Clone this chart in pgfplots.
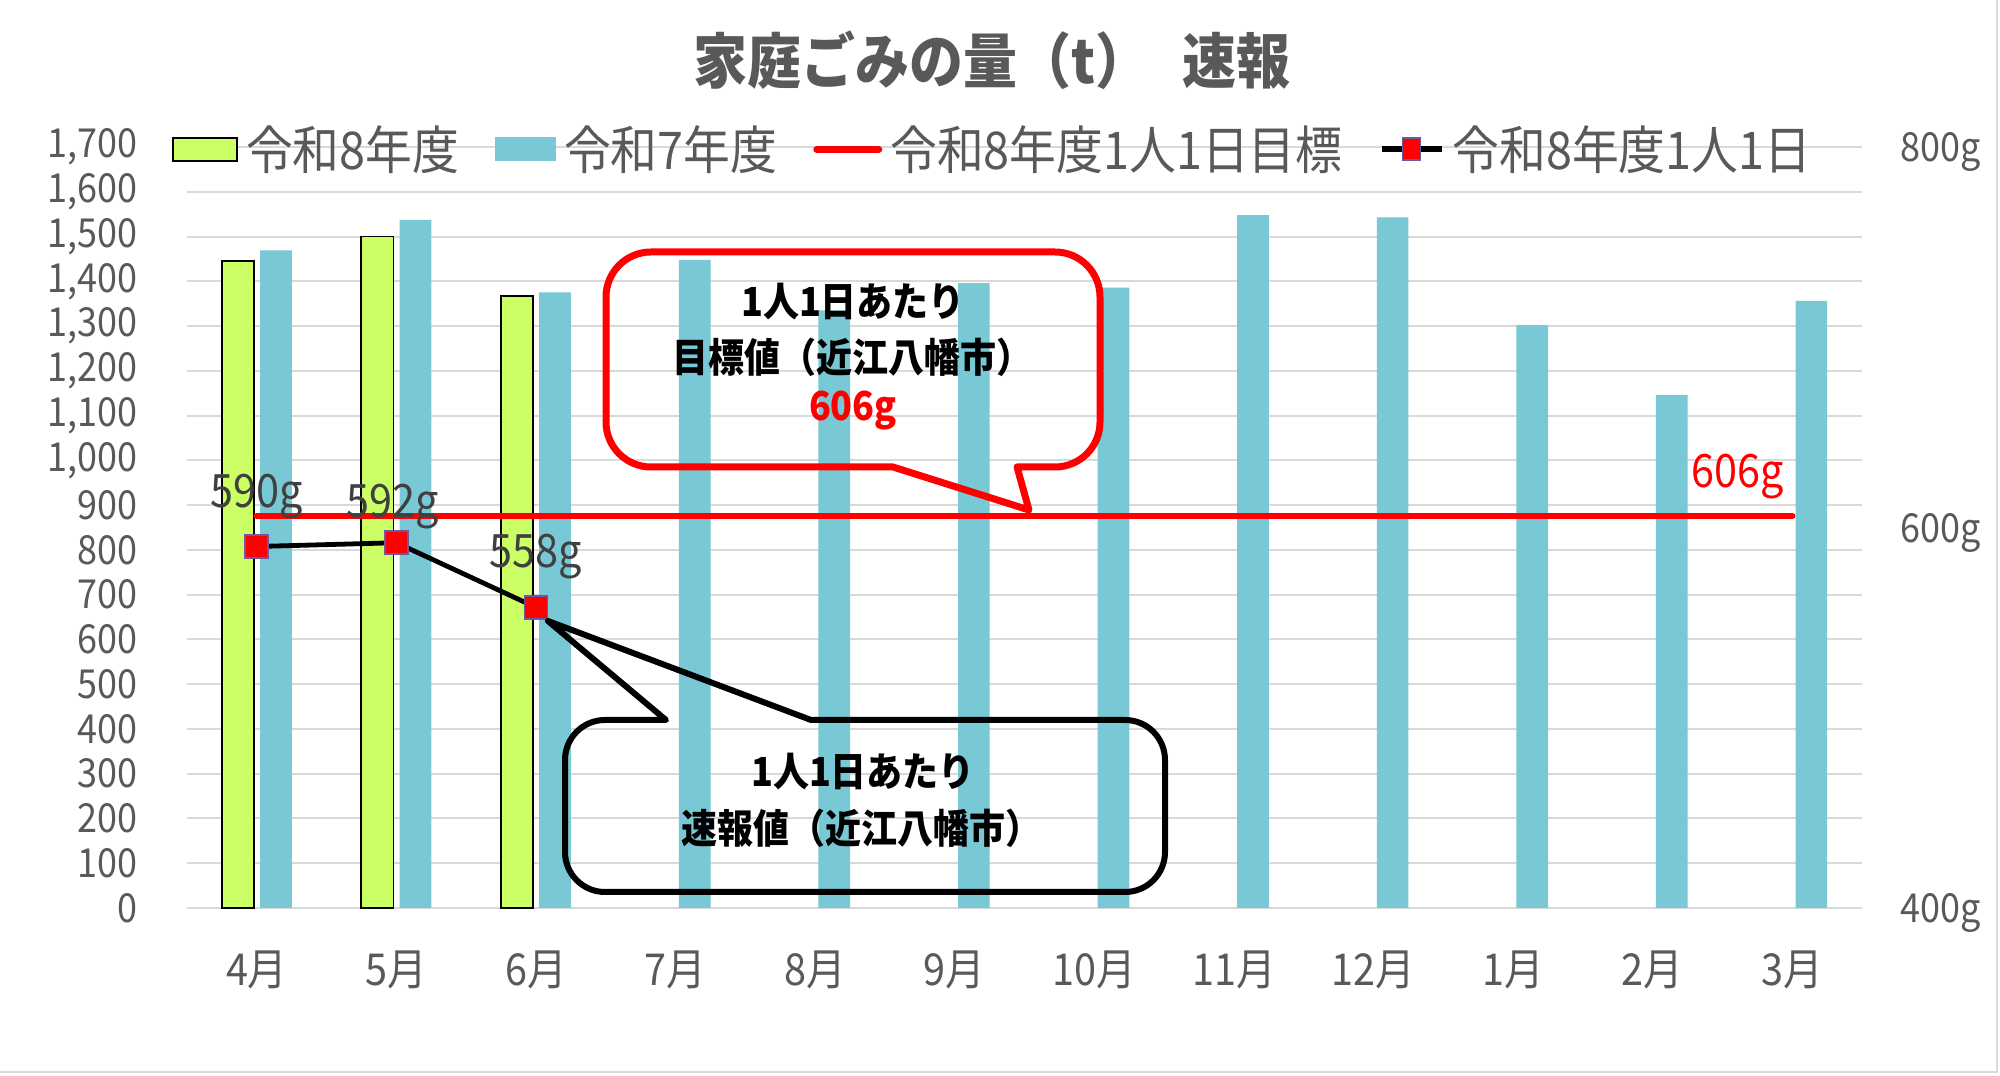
\documentclass[border=0pt]{standalone}
\usepackage{fontspec}
\setmainfont{Noto Sans CJK JP}[FakeStretch=0.9]
\usepackage{pgfplots}
\pgfplotsset{compat=1.18}
\definecolor{r8green}{HTML}{CCFF66}
\definecolor{r7cyan}{RGB}{120,200,213}
\definecolor{txtgray}{HTML}{595959}
\definecolor{lblgray}{HTML}{404040}
\definecolor{gridgray}{HTML}{D9D9D9}
\definecolor{mkborder}{RGB}{112,88,160}
\definecolor{xlred}{HTML}{FF0000}
\begin{document}
\begin{tikzpicture}
\begin{scope}[x=0.5pt,y=0.5pt]
\path[use as bounding box] (0,0) rectangle (2000,1075);
\draw[gridgray, line width=1pt] (1997,1075) -- (1997,3) -- (0,3);
\node[font=\bfseries\fontsize{30}{36}\selectfont, text=txtgray] at (992,1015) {家庭ごみの量（t）\hspace{0.55em}速報};
\end{scope}

\begin{axis}[
 at={(93.5pt,83.5pt)}, anchor=south west, scale only axis,
 width=837.5pt, height=380.5pt,
 xmin=-0.5, xmax=11.5, ymin=0, ymax=1700,
 xtick={0,...,11},
 xticklabels={4月,5月,6月,7月,8月,9月,10月,11月,12月,1月,2月,3月},
 ytick={0,100,...,1700},
 scaled y ticks=false,
 ymajorgrids, grid style={gridgray, line width=1pt},
 axis line style={draw=none}, major tick style={draw=none},
 xticklabel style={font=\fontsize{22}{26}\selectfont, text=txtgray, anchor=center, yshift=-31pt},
 yticklabel style={font=\fontsize{20}{24}\selectfont, text=txtgray, anchor=east, inner sep=0pt, xshift=-24.5pt},
 /pgf/number format/assume math mode=true,
 /pgf/number format/1000 sep={,},
 clip=false,
]
\addplot[ybar, bar width=0.23, bar shift=-0.136, fill=r8green, draw=black, line width=0.9pt]
 coordinates {(0,1445) (1,1500) (2,1367)};
\addplot[ybar, bar width=0.227, bar shift=0.137, fill=r7cyan, draw=none]
 coordinates {(0,1469) (1,1537) (2,1375) (3,1448) (4,1335) (5,1396) (6,1386) (7,1548) (8,1543) (9,1302) (10,1146) (11,1356)};
\end{axis}

\begin{axis}[
 at={(93.5pt,83.5pt)}, anchor=south west, scale only axis,
 width=837.5pt, height=380.5pt,
 xmin=-0.5, xmax=11.5, ymin=400, ymax=800,
 axis x line=none, axis y line*=right,
 y axis line style={draw=none}, major tick style={draw=none},
 ytick={400,600,800},
 yticklabel={\pgfmathprintnumber{\tick}g},
 yticklabel style={font=\fontsize{20}{24}\selectfont, text=txtgray, anchor=base west, inner sep=0pt, xshift=19pt, yshift=-7.3pt},
 /pgf/number format/assume math mode=true,
 clip=false,
 legend columns=4,
 legend cell align=left,
 legend style={at={(-0.009,0.997)}, anchor=west, draw=none, fill=none, inner sep=0pt,
   font=\fontsize{26}{30}\selectfont, text=txtgray,
   nodes={inner xsep=4pt, inner ysep=0pt},
   /tikz/every even column/.append style={column sep=14pt}},
]
\addlegendimage{legend image code/.code={\draw[fill=r8green,draw=black,line width=0.9pt] (0pt,-5.75pt) rectangle (32pt,5.75pt);}}
\addlegendentry{令和8年度}
\addlegendimage{legend image code/.code={\fill[r7cyan] (0pt,-5.75pt) rectangle (30pt,5.75pt);}}
\addlegendentry{令和7年度}
\addplot[xlred, line width=3.3pt, line cap=round,
  legend image code/.code={\draw[xlred, line width=3.5pt] (0pt,0pt) -- (31pt,0pt);}]
 coordinates {(0,606) (1,606) (2,606) (3,606) (4,606) (5,606) (6,606) (7,606) (8,606) (9,606) (10,606) (11,606)};
\addlegendentry{令和8年度1人1日目標}
\addplot[black, line width=2.4pt, mark=square*, mark size=5.75pt,
  mark options={fill=xlred, draw=mkborder, line width=0.8pt},
  legend image code/.code={\draw[black,line width=3pt] (0pt,0pt) -- (30pt,0pt);
    \draw[fill=xlred, draw=mkborder, line width=0.8pt] (10.5pt,-5.5pt) rectangle (19.5pt,5.5pt);}]
 coordinates {(0,590) (1,592) (2,558)};
\addlegendentry{令和8年度1人1日}
\node[font=\fontsize{23}{27}\selectfont, text=lblgray, inner sep=0pt] at (axis cs:0,616) {590g};
\node[font=\fontsize{23}{27}\selectfont, text=lblgray, inner sep=0pt] at (axis cs:0.976,610.8) {592g};
\node[font=\fontsize{23}{27}\selectfont, text=lblgray, inner sep=0pt] at (axis cs:2.0,584.5) {558g};
\node[font=\fontsize{23}{27}\selectfont, text=xlred, inner sep=0pt] at (axis cs:10.61,627) {606g};
\end{axis}

\begin{scope}[x=0.5pt,y=0.5pt]
\draw[xlred, line width=3.5pt, line join=round]
 (893,608) -- (651,608) arc[start angle=270, end angle=180, radius=45]
 -- (606,778) arc[start angle=180, end angle=90, radius=45]
 -- (1055,823) arc[start angle=90, end angle=0, radius=45]
 -- (1100,653) arc[start angle=0, end angle=-90, radius=45]
 -- (1017,608) -- (1029,565) -- cycle;
\node[font=\bfseries\fontsize{20}{24}\selectfont] at (853,773) {1人1日あたり};
\node[font=\bfseries\fontsize{20}{24}\selectfont] at (852,718) {目標値（近江八幡市）};
\node[font=\bfseries\fontsize{20}{24}\selectfont, text=xlred] at (853,665) {606g};
\draw[black, line width=3pt, line join=round]
 (666,355) -- (605,355) arc[start angle=90, end angle=180, radius=40]
 -- (565,223) arc[start angle=180, end angle=270, radius=40]
 -- (1125,183) arc[start angle=270, end angle=360, radius=40]
 -- (1165,315) arc[start angle=0, end angle=90, radius=40]
 -- (811,355) -- (548,454) -- cycle;
\node[font=\bfseries\fontsize{20}{24}\selectfont] at (863,303) {1人1日あたり};
\node[font=\bfseries\fontsize{20}{24}\selectfont] at (861,247) {速報値（近江八幡市）};
\end{scope}
\end{tikzpicture}
\end{document}
